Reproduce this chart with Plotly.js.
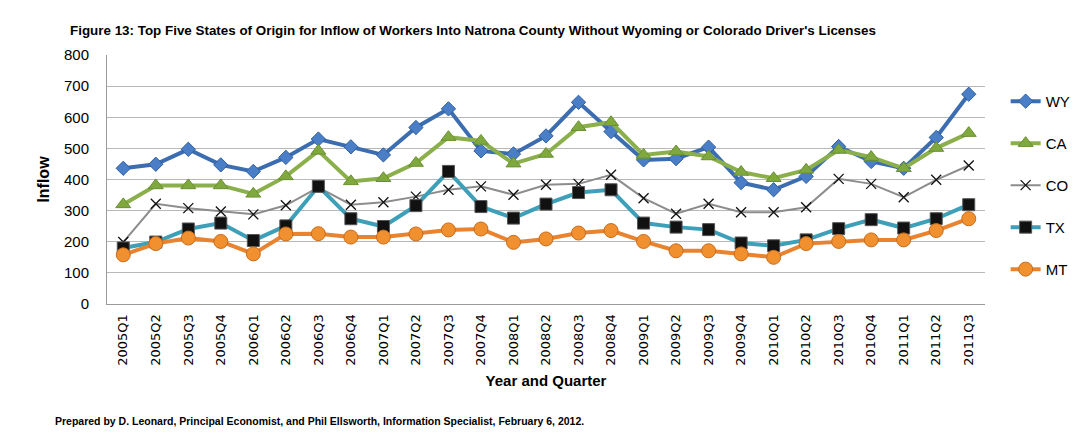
<!DOCTYPE html>
<html>
<head>
<meta charset="utf-8">
<script src="https://cdn.plot.ly/plotly-3.0.1.min.js"></script>
<style>html,body{margin:0;padding:0;background:#fff}#chart{width:1089px;height:437px}</style>
</head>
<body>
<div id="chart"></div>
<script>
const quarters = ["2005Q1","2005Q2","2005Q3","2005Q4","2006Q1","2006Q2","2006Q3","2006Q4","2007Q1","2007Q2","2007Q3","2007Q4","2008Q1","2008Q2","2008Q3","2008Q4","2009Q1","2009Q2","2009Q3","2009Q4","2010Q1","2010Q2","2010Q3","2010Q4","2011Q1","2011Q2","2011Q3"];
const WY = [436,449,497,447,426,471,530,505,479,567,627,492,482,540,648,554,463,467,504,390,367,410,506,458,436,535,674];
const CA = [320,381,381,381,354,410,492,394,404,453,536,524,451,482,568,584,479,490,474,424,404,431,495,472,436,501,549];
const CO = [199,322,308,297,288,317,375,319,327,345,367,378,351,383,386,415,340,290,322,295,295,311,402,386,343,399,445];
const TX = [180,199,241,260,204,251,378,274,249,316,426,313,276,321,358,367,260,247,239,196,187,206,242,271,244,274,319];
const MT = [158,194,212,201,161,225,226,215,215,225,238,241,198,209,228,236,201,171,171,161,150,194,201,206,206,236,274];
const yTicks = [0,100,200,300,400,500,600,700,800];

const narrow = "Liberation Sans Narrow, Liberation Sans, Arial, sans-serif";

function tr(name, y, lineColor, lineWidth, marker) {
  return {
    type: "scatter", mode: "lines+markers", name: name, x: quarters, y: y,
    legendgroup: name,
    line: {color: lineColor, width: lineWidth},
    marker: marker
  };
}

const data = [
  tr("WY", WY, "#3B6DB0", 4, {symbol: "diamond", size: 11, color: "#4A7FC8", line: {color: "#2F5E9E", width: 1}}),
  tr("CA", CA, "#8BB04B", 4, {symbol: "triangle-up", size: 13, color: "#7FA93E", line: {color: "#6A8F32", width: 1}}),
  tr("CO", CO, "#8C8C8C", 2, {symbol: "x-thin", size: 10, color: "#111111", line: {color: "#111111", width: 1.3}}),
  tr("TX", TX, "#3D9FB8", 4, {symbol: "square", size: 12, color: "#111111", line: {color: "#555555", width: 1}}),
  tr("MT", MT, "#E9832F", 4, {symbol: "circle", size: 14, color: "#F0902E", line: {color: "#C96C1C", width: 1}})
];

const layout = {
  width: 1089, height: 437,
  margin: {l: 107, r: 104, t: 55, b: 133},
  paper_bgcolor: "#ffffff", plot_bgcolor: "#ffffff",
  showlegend: true,
  title: {
    text: "<b>Figure 13: Top Five States of Origin for Inflow of Workers Into Natrona County Without Wyoming or Colorado Driver's Licenses</b>",
    font: {family: narrow, size: 13.4, color: "#000"},
    x: 70/1089, xanchor: "left", xref: "container",
    y: 1 - 30/437, yanchor: "middle", yref: "container"
  },
  xaxis: {
    type: "category", categoryorder: "array", categoryarray: quarters,
    tickangle: -90, tickfont: {family: "DejaVu Sans, sans-serif", size: 13, color: "#000"},
    showline: true, linecolor: "#9a9a9a", linewidth: 1,
    showgrid: false, ticks: "", ticklabelstandoff: 4,
    range: [-0.5, quarters.length - 0.5],
    title: {text: "<b>Year and Quarter</b>", font: {family: narrow, size: 15, color: "#000"}, standoff: 10}
  },
  yaxis: {
    range: [0, 800], tickvals: yTicks, ticktext: yTicks.map(String),
    tickfont: {family: narrow, size: 15, color: "#000"},
    showline: true, linecolor: "#9a9a9a", linewidth: 1,
    showgrid: true, gridcolor: "#b8b8b8", gridwidth: 1,
    zeroline: false, ticks: "", ticklabelstandoff: 14,
    title: {text: "<b>Inflow</b>", font: {family: narrow, size: 16, color: "#000"}, standoff: 10}
  },
  legend: {
    x: 1.0235, xanchor: "left", y: 0.88, yanchor: "top",
    font: {family: narrow, size: 15, color: "#000"},
    tracegroupgap: 19.5, bgcolor: "rgba(0,0,0,0)", borderwidth: 0
  },
  annotations: [{
    text: "<b>Prepared by D. Leonard, Principal Economist, and Phil Ellsworth, Information Specialist, February 6, 2012.</b>",
    xref: "paper", yref: "paper", x: (53-107)/878, y: (304-421)/249,
    xanchor: "left", yanchor: "middle", showarrow: false,
    font: {family: narrow, size: 10.5, color: "#000"}
  }]
};

Plotly.newPlot("chart", data, layout, {displayModeBar: false, staticPlot: true});
</script>
</body>
</html>
